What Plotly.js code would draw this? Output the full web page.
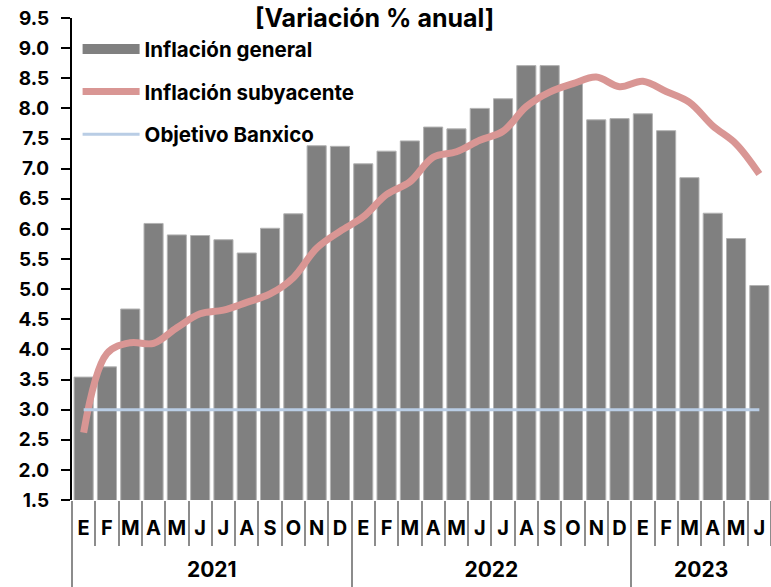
<!DOCTYPE html>
<html>
<head>
<meta charset="utf-8">
<script src="https://cdn.plot.ly/plotly-3.0.1.min.js"></script>
<style>
  html, body { margin: 0; padding: 0; background: #fff; }
  #chart { width: 771px; height: 587px; }
</style>
</head>
<body>
<div id="chart"></div>
<script>
// periods (categories) and the letters shown under each bar
const periods = ['ene-21', 'feb-21', 'mar-21', 'abr-21', 'may-21', 'jun-21', 'jul-21', 'ago-21', 'sep-21', 'oct-21', 'nov-21', 'dic-21',
    'ene-22', 'feb-22', 'mar-22', 'abr-22', 'may-22', 'jun-22', 'jul-22', 'ago-22', 'sep-22', 'oct-22', 'nov-22', 'dic-22',
    'ene-23', 'feb-23', 'mar-23', 'abr-23', 'may-23', 'jun-23'];
const monthLetters = ['E', 'F', 'M', 'A', 'M', 'J', 'J', 'A', 'S', 'O', 'N', 'D',
    'E', 'F', 'M', 'A', 'M', 'J', 'J', 'A', 'S', 'O', 'N', 'D',
    'E', 'F', 'M', 'A', 'M', 'J'];
const yearNames = ['2021', '2022', '2023'];
const monthsPerYear = [12, 12, 6];

// inflacion general
const general = [3.54, 3.71, 4.67, 6.09, 5.90, 5.89, 5.82, 5.60, 6.01, 6.25, 7.38, 7.37,
    7.08, 7.29, 7.46, 7.69, 7.66, 8.00, 8.16, 8.71, 8.71, 8.41, 7.81, 7.83,
    7.91, 7.63, 6.85, 6.26, 5.84, 5.06];

// inflacion subyacente
const subyacente = [2.62, 3.93, 4.11, 4.10, 4.36, 4.59, 4.65, 4.78, 4.92, 5.19, 5.68, 5.96,
    6.20, 6.57, 6.78, 7.19, 7.28, 7.47, 7.62, 8.03, 8.27, 8.41, 8.52, 8.36,
    8.45, 8.28, 8.10, 7.71, 7.41, 6.91];

// objetivo banxico
const objetivo = [3, 3, 3, 3, 3, 3, 3, 3, 3, 3, 3, 3,
    3, 3, 3, 3, 3, 3, 3, 3, 3, 3, 3, 3,
    3, 3, 3, 3, 3, 3];

const yTicks = [1.5, 2.0, 2.5, 3.0, 3.5, 4.0, 4.5, 5.0, 5.5, 6.0, 6.5, 7.0, 7.5, 8.0, 8.5, 9.0, 9.5];

// year group centres and starting edges, in category index units
let yearCenters = [];
let yearEdges = [];
let start = 0;
for (let i = 0; i < monthsPerYear.length; i++) {
    yearEdges.push(start - 0.5);
    yearCenters.push(start + (monthsPerYear[i] - 1) / 2);
    start += monthsPerYear[i];
}

const fam = 'Inter, Liberation Sans, Arial, sans-serif';
const tickFont = {family: fam, size: 19, color: '#000', weight: 'bold'};

var generalBars = {
    x: periods,
    y: general,
    type: 'bar',
    name: 'Inflación general',
    marker: {color: '#808080', line: {color: '#b3b3b3', width: 1}},
    showlegend: false,
    hoverinfo: 'x+y'
};

// legend entry only, so the swatch is a wide grey band like the original
var generalKey = {
    x: [null],
    y: [null],
    type: 'scatter',
    mode: 'lines',
    name: 'Inflación general',
    legendgroup: 'g1',
    line: {color: '#808080', width: 14}
};

var coreLine = {
    x: periods,
    y: subyacente,
    type: 'scatter',
    mode: 'lines',
    name: 'Inflación subyacente',
    legendgroup: 'g2',
    line: {color: '#d99694', width: 7, shape: 'spline', smoothing: 1}
};

var targetLine = {
    x: periods,
    y: objetivo,
    type: 'scatter',
    mode: 'lines',
    name: 'Objetivo Banxico',
    legendgroup: 'g3',
    line: {color: '#b9cde5', width: 3}
};

// empty trace so the year axis gets drawn
var yearAxisHolder = {
    x: [],
    y: [],
    type: 'scatter',
    mode: 'lines',
    xaxis: 'x2',
    showlegend: false,
    hoverinfo: 'skip'
};

var data = [generalBars, generalKey, coreLine, targetLine, yearAxisHolder];

var layout = {
    width: 771,
    height: 587,
    margin: {l: 72, r: 0, t: 18, b: 87},
    paper_bgcolor: '#fff',
    plot_bgcolor: '#fff',
    bargap: 0.18,
    font: tickFont,
    showlegend: true,
    legend: {
        x: 0.008, y: 0.977, xanchor: 'left', yanchor: 'top',
        font: {family: fam, size: 20.5, color: '#000', weight: 'bold'},
        bgcolor: 'rgba(0,0,0,0)',
        traceorder: 'grouped',
        tracegroupgap: 13,
        itemwidth: 57
    },
    // month letters with ticks on the category boundaries
    xaxis: {
        type: 'category',
        range: [-0.5, 29.5],
        tickmode: 'array',
        tickvals: periods,
        ticktext: monthLetters,
        tickson: 'boundaries',
        tickangle: 0,
        showline: false,
        showgrid: false,
        zeroline: false,
        ticks: 'outside',
        ticklen: 45,
        tickwidth: 2,
        tickcolor: '#8c8c8c',
        ticklabelstandoff: 14,
        tickfont: {family: fam, size: 20, color: '#000', weight: 'bold'}
    },
    // years, with long dividers where each year starts
    xaxis2: {
        type: 'linear',
        overlaying: 'x',
        anchor: 'y',
        side: 'bottom',
        range: [-0.5, 29.5],
        tickmode: 'array',
        tickvals: yearCenters,
        ticktext: yearNames,
        ticks: '',
        ticklabelstandoff: 55,
        showline: false,
        showgrid: false,
        zeroline: false,
        tickfont: {family: fam, size: 21, color: '#000', weight: 'bold'},
        minor: {
            tickmode: 'array',
            tickvals: yearEdges,
            ticks: 'outside',
            ticklen: 90,
            tickwidth: 2,
            tickcolor: '#8c8c8c',
            showgrid: false
        }
    },
    yaxis: {
        range: [1.5, 9.5],
        tickvals: yTicks,
        ticktext: yTicks.map(v => v.toFixed(1)),
        showline: true,
        linecolor: '#000',
        linewidth: 2,
        ticks: 'outside',
        ticklen: 9,
        tickwidth: 2,
        tickcolor: '#000',
        ticklabelstandoff: 8,
        showgrid: false,
        zeroline: false,
        tickfont: tickFont
    },
    annotations: [{
        text: '[Variación % anual]',
        xref: 'paper', yref: 'paper',
        x: 0.433, y: 1.0, xanchor: 'center', yanchor: 'middle',
        showarrow: false,
        font: {family: fam, size: 25, color: '#000', weight: 'bold'}
    }]
};

Plotly.newPlot('chart', data, layout, {displayModeBar: false});
</script>
</body>
</html>
